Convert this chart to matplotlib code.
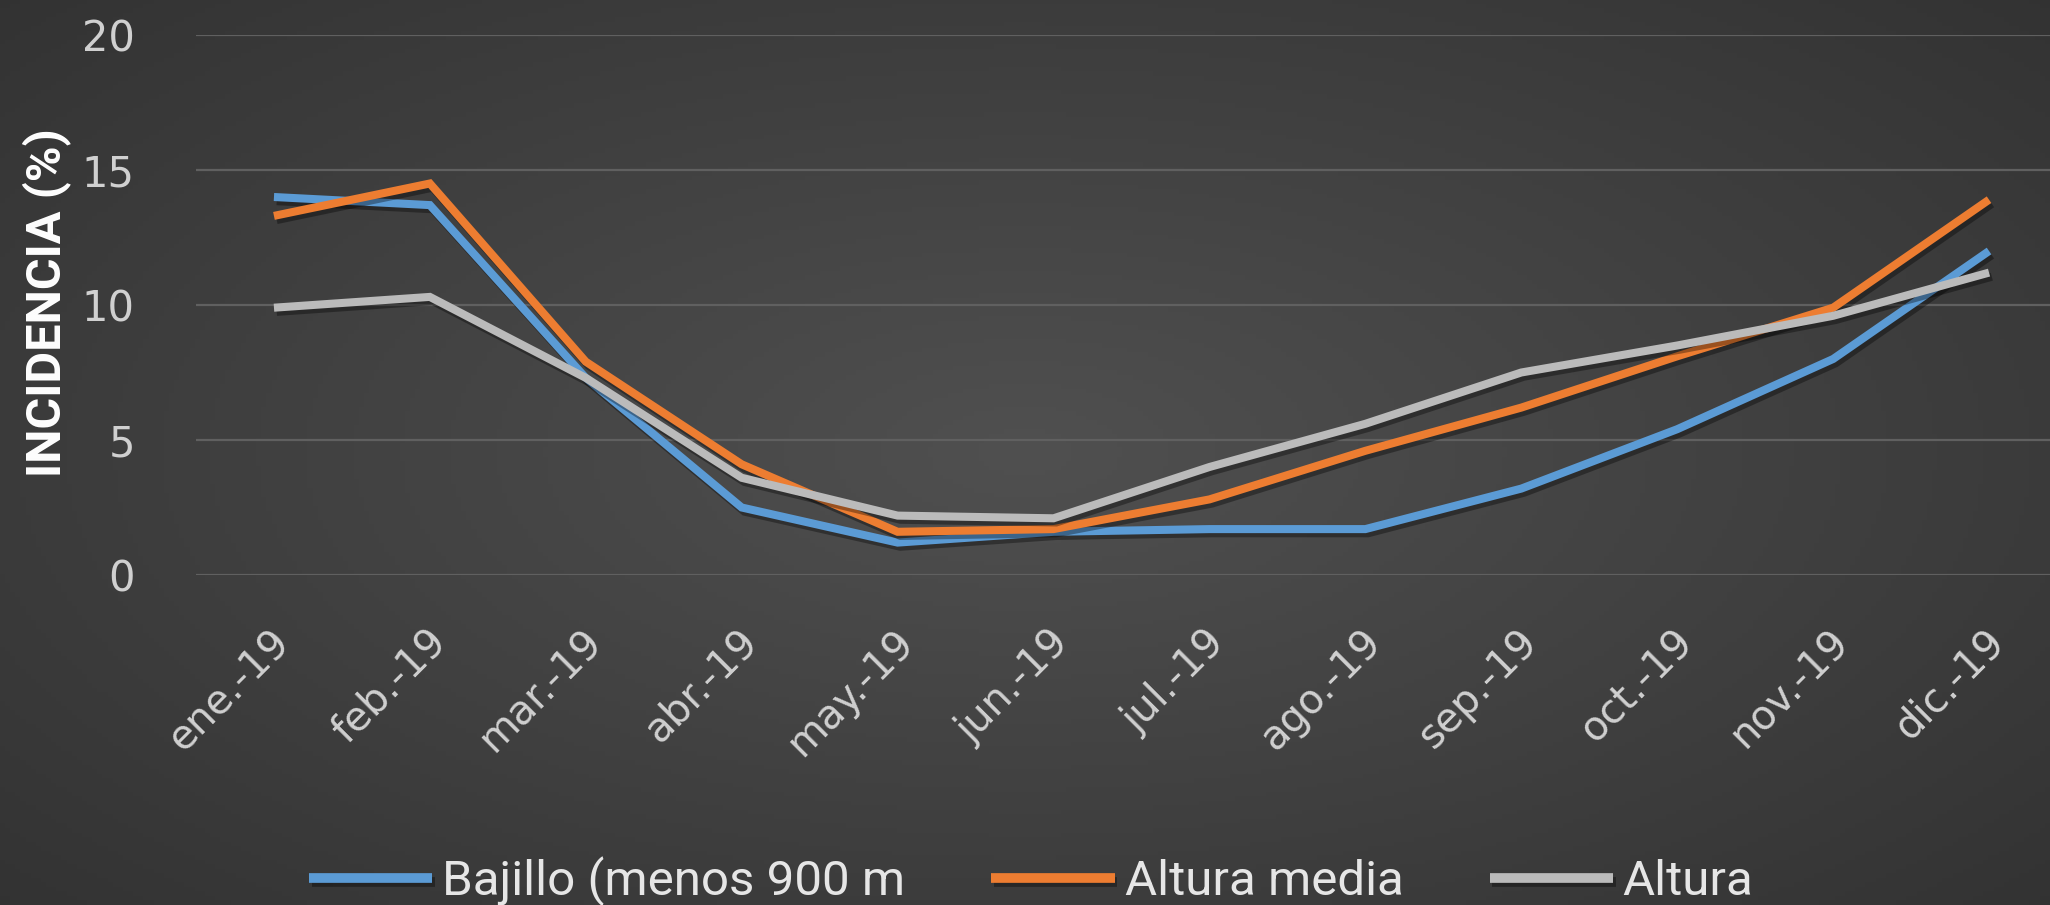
import numpy as np
import matplotlib
matplotlib.use("Agg")
import matplotlib.pyplot as plt
import matplotlib.patheffects as pe
import matplotlib.transforms as mtransforms

months = ["ene.-19", "feb.-19", "mar.-19", "abr.-19", "may.-19", "jun.-19",
          "jul.-19", "ago.-19", "sep.-19", "oct.-19", "nov.-19", "dic.-19"]
bajillo = [14.0, 13.7, 7.3, 2.5, 1.2, 1.6, 1.7, 1.7, 3.2, 5.4, 8.0, 12.0]
altura_media = [13.3, 14.5, 7.9, 4.1, 1.6, 1.7, 2.8, 4.6, 6.2, 8.1, 9.9, 13.9]
altura = [9.9, 10.3, 7.3, 3.6, 2.2, 2.1, 4.0, 5.6, 7.5, 8.5, 9.6, 11.2]
series_names = ["Bajillo (menos 900 m", "Altura media", "Altura"]
yticks = [0, 5, 10, 15, 20]

W, H = 2050, 905
fig = plt.figure(figsize=(W / 100, H / 100), dpi=100)

# radial gradient background
bg = fig.add_axes([0, 0, 1, 1], zorder=-10)
yy, xx = np.mgrid[0:1:200j, 0:1:400j]
r = np.sqrt(((xx - 0.5) / 0.75) ** 2 + ((yy - 0.5) / 0.8) ** 2)
r = np.clip(r, 0, 1)
c_in = np.array([0x50, 0x50, 0x50]) / 255
c_out = np.array([0x30, 0x30, 0x30]) / 255
img = c_in[None, None, :] * (1 - r[..., None]) + c_out[None, None, :] * r[..., None]
bg.imshow(img, extent=[0, 1, 0, 1], aspect="auto", origin="lower")
bg.set_axis_off()

left, right = 196 / W, 2067 / W
bottom, top = (H - 575) / H, (H - 35) / H
ax = fig.add_axes([left, bottom, right - left, top - bottom])
ax.set_facecolor("none")

x = np.arange(len(months))
colors = ["#5B9BD5", "#ED7D31", "#BBBBBB"]
shadow = [pe.SimpleLineShadow(offset=(2, -3), shadow_color="black", alpha=0.35), pe.Normal()]
for vals, name, col in zip([bajillo, altura_media, altura], series_names, colors):
    ax.plot(x, vals, color=col, lw=5.8, label=name, solid_capstyle="butt",
            solid_joinstyle="miter", path_effects=shadow)

ax.set_xlim(-0.5, len(months) - 0.5)
ax.set_ylim(0, 20)
ax.set_yticks(yticks)
ax.set_yticklabels([str(v) for v in yticks], fontsize=30, color="#d0d0d0", family="DejaVu Sans")
ax.set_xticks(x)
ax.set_xticklabels(months, rotation=45, ha="right", va="center", rotation_mode="anchor",
                   fontsize=29, color="#d0d0d0", family="DejaVu Sans")
ax.tick_params(axis="y", length=0, pad=44)
ax.tick_params(axis="x", length=0, pad=44)
off = mtransforms.ScaledTranslation(10 / 100, 0, fig.dpi_scale_trans)
for lab in ax.get_xticklabels():
    lab.set_transform(lab.get_transform() + off)
ax.grid(axis="y", color="#606060", lw=1.6)
ax.set_axisbelow(True)
for s in ax.spines.values():
    s.set_visible(False)

ax.set_ylabel("INCIDENCIA (%)", fontsize=35, fontweight="bold", color="white", family="Roboto")
ax.yaxis.set_label_coords(-0.067, 0.504)

leg = fig.legend(loc="center", bbox_to_anchor=(0.503, 0.026), ncol=3, frameon=False,
                 prop={"family": "Roboto", "size": 35.5}, labelcolor="#e6e6e6",
                 handlelength=2.5, handletextpad=0.2, columnspacing=1.75)
for h in leg.get_lines():
    h.set_linewidth(7)

fig.savefig("out.png", dpi=100)
